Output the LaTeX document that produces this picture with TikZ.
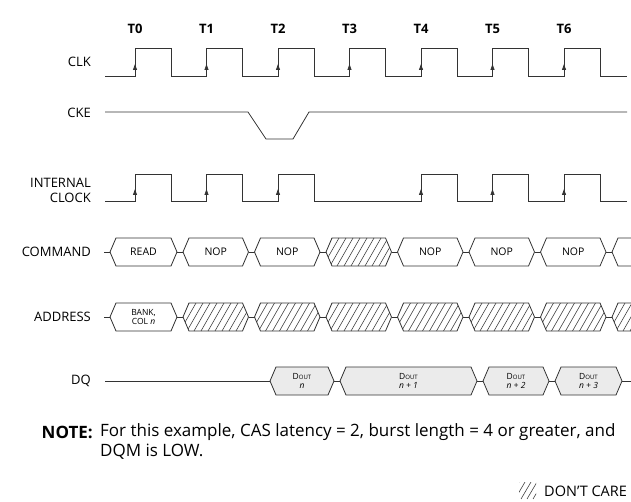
\documentclass[tikz,border=0pt]{standalone}
\usepackage{fontspec}
\setmainfont{Open Sans}
\usetikzlibrary{arrows.meta}
\tikzset{
  wave/.style={line width=0.8pt,draw=black!80},
  hatch/.style={line width=0.6pt,draw=black!75},
  sig/.style={anchor=east,font=\fontsize{13}{15}\selectfont,align=right,inner sep=0pt},
  tick/.style={font=\bfseries\fontsize{13}{15}\selectfont,inner sep=0pt},
  cmd/.style={font=\fontsize{10.5}{11}\selectfont,inner sep=0pt},
  small/.style={font=\fontsize{8.5}{9}\selectfont,align=center,inner sep=0pt},
  note/.style={font=\fontsize{17}{19}\selectfont,anchor=west,inner sep=0pt},
  dout/.style={fill=black!8},
  blank/.style={fill=white},
  edge/.style={-{Triangle[width=4pt,length=6pt]},line width=0.8pt,draw=black!80}
}
% one bus cell between junctions #1 and #2 on row #3, style #4
\newcommand\buscell[4]{\path[wave,#4] (#1+3,#3) -- (#1+9,#3-14) -- (#2-9,#3-14)
  -- (#2-3,#3) -- (#2-9,#3+14) -- (#1+9,#3+14) -- cycle;}
% don't care cell
\newcommand\hatchcell[3]{%
  \begin{scope}
    \clip (#1+3,#3) -- (#1+9,#3-14) -- (#2-9,#3-14) -- (#2-3,#3) -- (#2-9,#3+14) -- (#1+9,#3+14) -- cycle;
    \foreach \h in {0,7,...,126} \draw[hatch] (#1-14+\h,#3+14) -- (#1+2+\h,#3-14);
  \end{scope}
  \buscell{#1}{#2}{#3}{}}
\newcommand\dout{D{\fontsize{6}{6}\selectfont OUT}}
\begin{document}
\begin{tikzpicture}[x=1pt,y=-1pt]
 \def\xo{135}\def\per{71.5}
 \useasboundingbox (0,0) rectangle (631,502);
 \clip (0,0) rectangle (631,502);
 % clock edges
 \foreach \i in {0,...,6}
   \node[tick] (t\i) at ({\xo+\i*\per},29) {T\i};
 % signal names
 \node[sig] (clk) at (91,62) {CLK};
 \node[sig] (cke) at (91,113) {CKE};
 \node[sig] (iclk) at (91,190) {INTERNAL\\CLOCK};
 \node[sig] (cmd) at (91,252) {COMMAND};
 \node[sig] (addr) at (91,317) {ADDRESS};
 \node[sig] (dq) at (91,381) {DQ};
 % CLK
 \draw[wave] (105,76) \foreach \i in {0,...,6}{
   -- ({\xo+\i*\per},76) -- ({\xo+\i*\per},48) -- ({\xo+\i*\per+36},48) -- ({\xo+\i*\per+36},76)} -- (627,76);
 \foreach \i in {0,...,6} \draw[edge] ({\xo+\i*\per},76) -- ({\xo+\i*\per},64);
 % CKE
 \draw[wave] (105,112) -- (248,112) -- (266,139) -- (293,139) -- (309,112) -- (627,112);
 % INTERNAL CLOCK, no edge at T3
 \draw[wave] (105,201) \foreach \i in {0,1,2,4,5,6}{
   -- ({\xo+\i*\per},201) -- ({\xo+\i*\per},174) -- ({\xo+\i*\per+36},174) -- ({\xo+\i*\per+36},201)} -- (627,201);
 \foreach \i in {0,1,2,4,5,6} \draw[edge] ({\xo+\i*\per},201) -- ({\xo+\i*\per},189);
 % COMMAND
 \foreach \j in {107,180,251.5,323,394.5,466,537.5,609}
   \draw[wave] (\j-3,252) -- (\j+3,252);
 \foreach \a/\b/\t [count=\k] in {107/180/READ,180/251.5/NOP,251.5/323/NOP,394.5/466/NOP,466/537.5/NOP,537.5/609/NOP,609/700/{}}{
   \buscell{\a}{\b}{252}{blank}
   \node[cmd] (c\k) at ({(\a+\b)/2},252) {\t};
 }
 \hatchcell{323}{394.5}{252}
 % ADDRESS
 \foreach \j in {107,180,251.5,323,394.5,466,537.5,609}
   \draw[wave] (\j-3,317) -- (\j+3,317);
 \buscell{107}{180}{317}{blank}
 \node[small] (a0) at (143.5,317) {BANK,\\COL \textit{n}};
 \foreach \a/\b in {180/251.5,251.5/323,323/394.5,394.5/466,466/537.5,537.5/609,609/700}
   \hatchcell{\a}{\b}{317};
 % DQ
 \draw[wave] (105,381) -- (270,381);
 \foreach \j in {337,480,552}
   \draw[wave] (\j-3,381) -- (\j+3,381);
 \draw[wave] (622,381) -- (640,381);
 \foreach \a/\b/\t [count=\k] in {267/337/n,337/480/n + 1,480/552/n + 2,552/625/n + 3}{
   \buscell{\a}{\b}{381}{dout}
   \node[small] (d\k) at ({(\a+\b)/2},381) {\dout\\\textit{\t}};
 }
 % note and legend
 \node[note,anchor=east] (noteh) at (93,432) {\bfseries NOTE:};
 \node[note] (note1) at (100,432) {For this example, CAS latency = 2, burst length = 4 or greater, and};
 \node[note] (note2) at (100,452) {DQM is LOW.};
 \begin{scope}
   \clip (519,482) rectangle (536,499);
   \foreach \h in {0,6,...,30} \draw[hatch] (509+\h,499) -- (519+\h,482);
 \end{scope}
 \node[note,font=\fontsize{14.5}{17}\selectfont] (dc) at (544,491) {DON'T CARE};
\end{tikzpicture}
\end{document}
